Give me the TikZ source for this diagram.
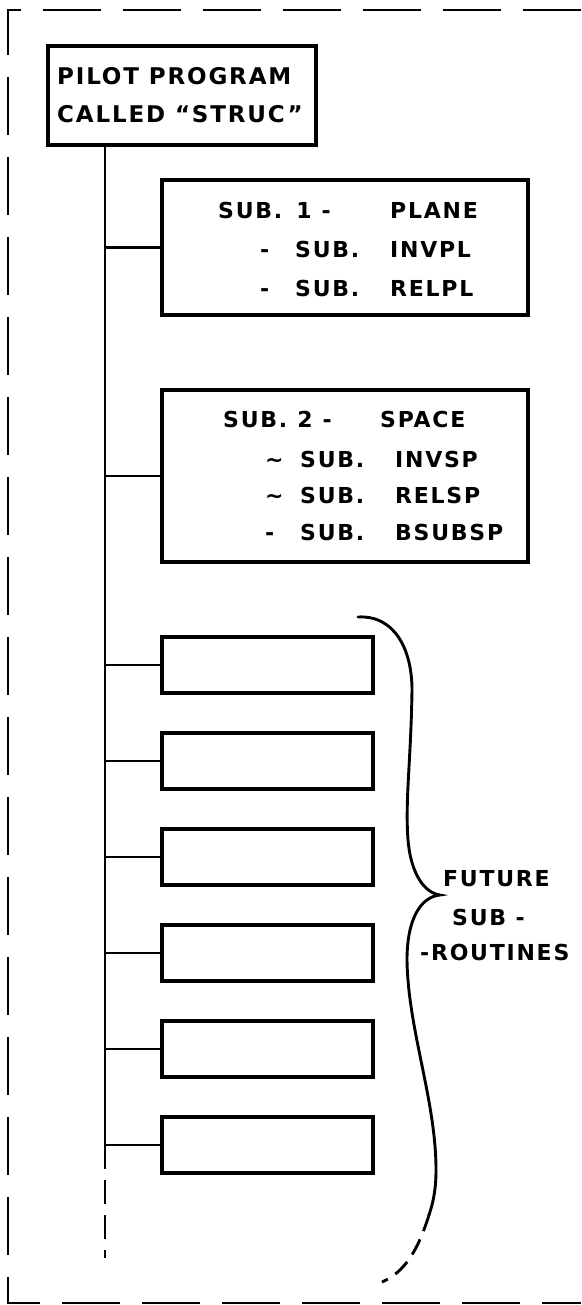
\documentclass[tikz,border=0pt]{standalone}
\usepackage{fontspec}
\setmainfont{DejaVu Sans}[LetterSpace=8]
\usetikzlibrary{positioning}
\newcommand{\subRow}[3]{\makebox[35pt][l]{#1}\makebox[95pt][l]{#2}#3}

\begin{document}
\begin{tikzpicture}[x=1pt,y=-1pt,
    box/.style={draw, line width=3.2pt, inner sep=0pt},
    link/.style={line width=2.7pt},
    lbl/.style={anchor=base west, inner sep=0pt, font=\bfseries\fontsize{22}{26}\selectfont},
    bigLbl/.style={lbl, font=\bfseries\fontsize{23}{27}\selectfont}]
    \useasboundingbox (0,0) rectangle (581,1305);
    \draw[line width=2.7pt, dash pattern=on 58pt off 22pt] (581,10) -- (8,10) -- (8,1303) -- (581,1303);
    \node[box, minimum width=268pt, minimum height=99pt] (pilot) at (182,95.5) {};
    \node[bigLbl] (pilotA) at (57,85) {PILOT PROGRAM};
    \node[bigLbl] (pilotB) at (57,123) {CALLED “STRUC”};
    \coordinate (trunkEnd) at (105,1145);
    \coordinate (trunkTail) at (105,1258);
    \draw[link] (pilot.south -| trunkEnd) -- (trunkEnd);
    \draw[link, dash pattern=on 24pt off 11pt] (trunkEnd) -- (trunkTail);
    \node[box, minimum width=366pt, minimum height=135pt] (plane) at (345,247.5) {};
    \node[lbl] (planeA) at (218,219) {\makebox[172pt][l]{SUB.\hspace{14pt}1\hspace{10pt}-}PLANE};
    \node[lbl] (planeB) at (260,258) {\subRow{-}{SUB.}{INVPL}};
    \node[lbl] (planeC) at (260,297) {\subRow{-}{SUB.}{RELPL}};
    \draw[link] (plane.west -| trunkEnd) -- (plane.west);
    \node[box, minimum width=366pt, minimum height=172pt] (space) at (345,476) {};
    \node[lbl] (spaceA) at (223,427) {\makebox[157pt][l]{SUB.\hspace{10pt}2\hspace{10pt}-}SPACE};
    \node[lbl] (spaceB) at (265,467) {\subRow{\textasciitilde}{SUB.}{INVSP}};
    \node[lbl] (spaceC) at (265,503) {\subRow{\textasciitilde}{SUB.}{RELSP}};
    \node[lbl] (spaceD) at (265,540) {\subRow{-}{SUB.}{BSUBSP}};
    \draw[link] (space.west -| trunkEnd) -- (space.west);
    \foreach \i/\yy in {1/665,2/761,3/857,4/953,5/1049,6/1145} {
        \node[box, minimum width=211pt, minimum height=56pt] (fb\i) at (267.5,\yy) {};
        \draw[link] (fb\i.west -| trunkEnd) -- (fb\i.west);
    }
    \coordinate (braceTip) at (440,895);
    \coordinate (braceFade) at (429,1215);
    \draw[line width=2.9pt, line cap=round] (358,617) .. controls (395,615) and (412,650) .. (412,690)
        .. controls (411,760) and (405,800) .. (408,840) .. controls (411,875) and (425,893) .. (braceTip)
        .. controls (420,897) and (407,920) .. (407,960) .. controls (408,1030) and (436,1100) .. (436,1170)
        .. controls (436,1190) and (433,1203) .. (braceFade);
    \draw[line width=2.9pt, dash pattern=on 17pt off 9pt] (braceFade) .. controls (418,1250) and (405,1272) .. (382,1282);
    \node[lbl] (futA) at (443,886) {FUTURE};
    \node[lbl] (futB) at (452,925) {SUB -};
    \node[lbl] (futC) at (420,960) {-ROUTINES};
\end{tikzpicture}
\end{document}
